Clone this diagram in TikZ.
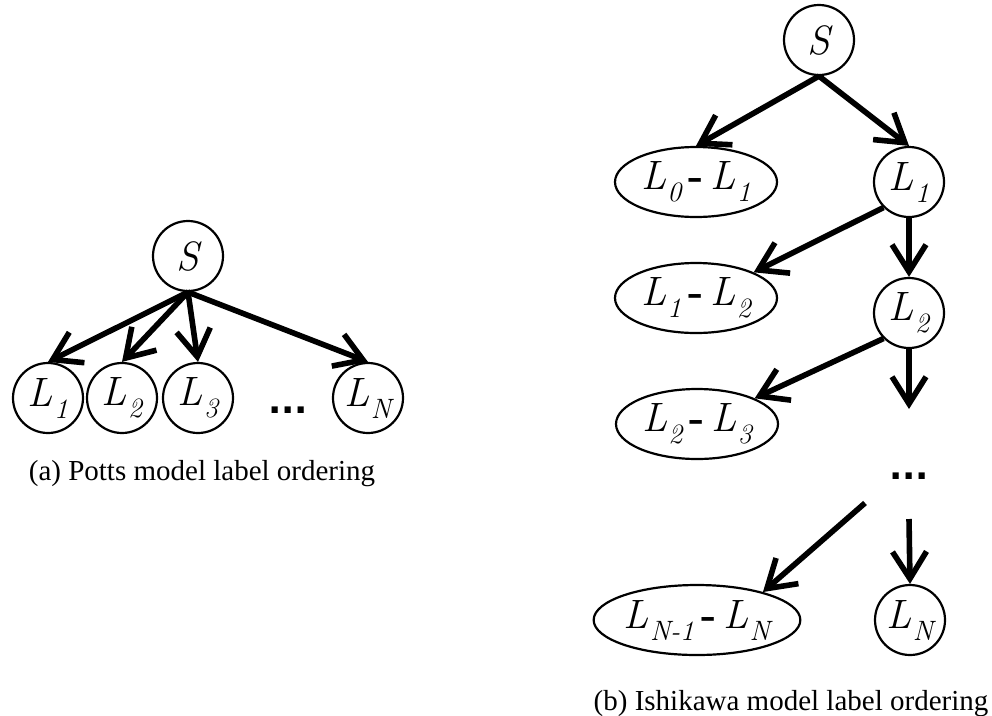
\documentclass[tikz,border=0pt]{standalone}
\usepackage{fontspec}
\newfontfamily\capfont{Liberation Serif}
\newfontfamily\dotfont{DejaVu Sans}
\usetikzlibrary{arrows.meta,shapes.geometric}

\tikzset{
  labelnode/.style={circle, draw, line width=2.2pt, minimum size=70pt, inner sep=0pt,
    font=\fontsize{41}{44}\selectfont\itshape},
  pairnode/.style={ellipse, draw, line width=2.2pt, minimum width=162pt, minimum height=70pt,
    inner sep=0pt, font=\fontsize{41}{44}\selectfont\itshape},
  edge/.style={line width=5.6pt, -{Straight Barb[length=27pt,width=34pt,line width=5.6pt]}},
  captiontext/.style={font=\capfont\fontsize{29}{32}\selectfont, anchor=base},
  gapdots/.style={font=\dotfont\bfseries\fontsize{35}{38}\selectfont, inner sep=0pt}
}
% italic L with a lowered, slightly smaller subscript
\newcommand{\lab}[1]{L\kern1pt\raisebox{-12pt}{\fontsize{28}{30}\selectfont #1}}
\newcommand{\dash}{\hspace{7pt}{\upshape\bfseries -}\hspace{7pt}}

\begin{document}
\begin{tikzpicture}[x=1pt, y=-1pt]
  \useasboundingbox (0,0) rectangle (992,715);

  % (a) Potts model: every label hangs directly off the source
  \node[labelnode] (pS) at (188,256) {S};
  \node[labelnode] (p1) at (48,398) {\lab{1}};
  \node[labelnode] (p2) at (122,398) {\lab{2}};
  \node[labelnode] (p3) at (198,398) {\lab{3}};
  \node[labelnode] (pN) at (368,398) {\lab{N}};
  \node[gapdots] (pdots) at (288,410) {...};
  \foreach \t in {p1,p2,p3,pN}
    \draw[edge] (pS.south) -- (\t.north);
  \node[captiontext] (capa) at (202,480) {(a) Potts model label ordering};

  % (b) Ishikawa model: a chain of labels with pairwise nodes
  \node[labelnode] (iS) at (819,40) {S};
  \node[pairnode] (d01) at (696,182) {\lab{0}\dash\lab{1}};
  \node[labelnode] (i1) at (909,182) {\lab{1}};
  \node[pairnode] (d12) at (696,298) {\lab{1}\dash\lab{2}};
  \node[labelnode] (i2) at (909,313) {\lab{2}};
  \node[pairnode] (d23) at (697,424) {\lab{2}\dash\lab{3}};
  \node[gapdots] (idots) at (909,476) {...};
  \node[pairnode, minimum width=188pt] (dN) at (697,620) {\lab{N-1}\dash\lab{N}};
  \node[labelnode] (iN) at (910,620) {\lab{N}};

  \coordinate (down2) at (909,409);
  \coordinate (fromdotsL) at (865,503);
  \coordinate (fromdotsR) at (909,519);

  \draw[edge] (iS.south) -- (d01.north);
  \draw[edge] (iS.south) -- (i1.north);
  \draw[edge] (i1.225) -- (d12.24);
  \draw[edge] (i1.south) -- (i2.north);
  \draw[edge] (i2.225) -- (d23.24);
  \draw[edge] (i2.south) -- (down2);
  \draw[edge] (fromdotsL) -- (dN.23);
  \draw[edge] (fromdotsR) -- (iN.north);

  \node[captiontext] (capb) at (791,710) {(b) Ishikawa model label ordering};
\end{tikzpicture}
\end{document}
